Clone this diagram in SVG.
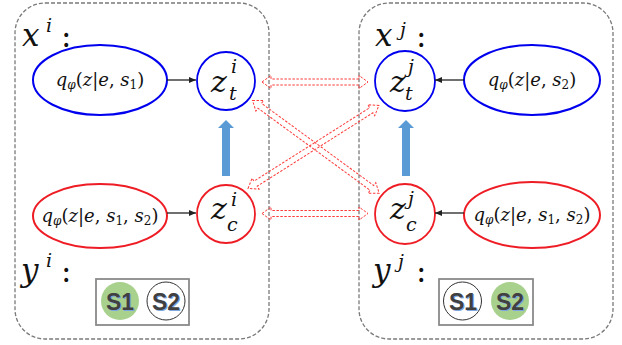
<svg xmlns="http://www.w3.org/2000/svg" width="622" height="345" viewBox="0 0 622 345">
<style>
.box{fill:none;stroke:#7a7a7a;stroke-width:1.3;stroke-dasharray:4 2}
.eb{fill:#fff;stroke:#0000ee;stroke-width:2}
.er{fill:#fff;stroke:#ee1c24;stroke-width:2}
.cb{fill:#fff;stroke:#0000ee;stroke-width:1.8}
.cr{fill:#fff;stroke:#ee1c24;stroke-width:1.8}
.m{font-family:"DejaVu Serif","Liberation Serif",serif;font-style:italic;fill:#111}
.u{font-style:normal}
.q{font-size:18px}
.z{font-size:30px}
.s{font-size:19px}
.lab{font-size:31px}
.blk{fill:none;stroke:#222;stroke-width:1.3}
.ra{fill:none;stroke:#ff3b3b;stroke-width:1;stroke-dasharray:2.5 1.5}
.ba{fill:#5b9bd5}
.leg{fill:#fff;stroke:#8a8a8a;stroke-width:1.8}
.st{font-family:"Liberation Sans",Arial,sans-serif;font-weight:bold;font-size:24px;fill:#404040}
.sh{font-family:"Liberation Sans",Arial,sans-serif;font-weight:bold;font-size:24px;fill:#7ea6e0}
</style>
<defs>
<marker id="ah" markerWidth="8" markerHeight="8" refX="7" refY="4" orient="auto" markerUnits="userSpaceOnUse">
<path d="M0,1 L7,4 L0,7 Z" fill="#222"/>
</marker>
</defs>

<g id="box-i"><rect class="box" x="15" y="3" width="254" height="336" rx="30"/></g>
<g id="box-j"><rect class="box" x="359" y="3" width="254" height="336" rx="30"/></g>

<g id="label-xi"><text class="m lab" x="22" y="46">x</text><text class="m s" x="46" y="32">i</text><text class="m lab u" x="61" y="47">:</text></g>
<g id="label-yi"><text class="m lab" x="21" y="281">y</text><text class="m s" x="46" y="267">i</text><text class="m lab u" x="61" y="282">:</text></g>
<g id="label-xj"><text class="m lab" x="375" y="46">x</text><text class="m s" x="400" y="36">j</text><text class="m lab u" x="416" y="47">:</text></g>
<g id="label-yj"><text class="m lab" x="373" y="281">y</text><text class="m s" x="398" y="268">j</text><text class="m lab u" x="416" y="282">:</text></g>

<g id="q-i-top"><ellipse class="eb" cx="100" cy="80" rx="67" ry="35"/>
<text class="m q" x="100" y="86" text-anchor="middle">q<tspan font-size="12" dy="3">φ</tspan><tspan class="u" dy="-3">(</tspan>z<tspan class="u">|</tspan>e<tspan class="u">, </tspan>s<tspan class="u" font-size="12" dy="3">1</tspan><tspan class="u" dy="-3">)</tspan></text></g>
<g id="q-j-top"><ellipse class="eb" cx="532" cy="80" rx="68" ry="35"/>
<text class="m q" x="532" y="86" text-anchor="middle">q<tspan font-size="12" dy="3">φ</tspan><tspan class="u" dy="-3">(</tspan>z<tspan class="u">|</tspan>e<tspan class="u">, </tspan>s<tspan class="u" font-size="12" dy="3">2</tspan><tspan class="u" dy="-3">)</tspan></text></g>
<g id="q-i-bot"><ellipse class="er" cx="100" cy="216" rx="67" ry="32"/>
<text class="m q" x="100" y="222" text-anchor="middle">q<tspan font-size="12" dy="3">φ</tspan><tspan class="u" dy="-3">(</tspan>z<tspan class="u">|</tspan>e<tspan class="u">, </tspan>s<tspan class="u" font-size="12" dy="3">1</tspan><tspan class="u" dy="-3">, </tspan>s<tspan class="u" font-size="12" dy="3">2</tspan><tspan class="u" dy="-3">)</tspan></text></g>
<g id="q-j-bot"><ellipse class="er" cx="532" cy="215" rx="68" ry="33"/>
<text class="m q" x="532" y="221" text-anchor="middle">q<tspan font-size="12" dy="3">φ</tspan><tspan class="u" dy="-3">(</tspan>z<tspan class="u">|</tspan>e<tspan class="u">, </tspan>s<tspan class="u" font-size="12" dy="3">1</tspan><tspan class="u" dy="-3">, </tspan>s<tspan class="u" font-size="12" dy="3">2</tspan><tspan class="u" dy="-3">)</tspan></text></g>

<g id="zt-i"><circle class="cb" cx="226" cy="81" r="29"/>
<text class="m z" x="211" y="92">z</text><text class="m s" x="231" y="73">i</text><text class="m s" x="229" y="100">t</text></g>
<g id="zc-i"><circle class="cr" cx="226" cy="214" r="29"/>
<text class="m z" x="211" y="219">z</text><text class="m s" x="231" y="206">i</text><text class="m s" x="227" y="231">c</text></g>
<g id="zt-j"><circle class="cb" cx="405" cy="81" r="30"/>
<text class="m z" x="390" y="92">z</text><text class="m s" x="408" y="73">j</text><text class="m s" x="405" y="100">t</text></g>
<g id="zc-j"><circle class="cr" cx="405" cy="214" r="30"/>
<text class="m z" x="390" y="219">z</text><text class="m s" x="408" y="205">j</text><text class="m s" x="406" y="231">c</text></g>

<g id="legend-i"><rect class="leg" x="96" y="279" width="93" height="46"/>
<circle cx="120" cy="301" r="19" fill="#a9d18e"/>
<circle cx="166" cy="301" r="19" fill="#fff" stroke="#333" stroke-width="1"/>
<text class="sh" x="107" y="311" textLength="28" lengthAdjust="spacingAndGlyphs">S1</text>
<text class="st" x="106" y="310" textLength="28" lengthAdjust="spacingAndGlyphs">S1</text>
<text class="sh" x="153" y="311" textLength="28" lengthAdjust="spacingAndGlyphs">S2</text>
<text class="st" x="152" y="310" textLength="28" lengthAdjust="spacingAndGlyphs">S2</text></g>
<g id="legend-j"><rect class="leg" x="439" y="279" width="94" height="46"/>
<circle cx="462.5" cy="301" r="19" fill="#fff" stroke="#333" stroke-width="1"/>
<circle cx="510" cy="301" r="19" fill="#a9d18e"/>
<text class="sh" x="450" y="311" textLength="28" lengthAdjust="spacingAndGlyphs">S1</text>
<text class="st" x="449" y="310" textLength="28" lengthAdjust="spacingAndGlyphs">S1</text>
<text class="sh" x="497" y="311" textLength="28" lengthAdjust="spacingAndGlyphs">S2</text>
<text class="st" x="496" y="310" textLength="28" lengthAdjust="spacingAndGlyphs">S2</text></g>

<g id="connectors">
<line class="blk" x1="167" y1="80" x2="196" y2="80" marker-end="url(#ah)"/>
<line class="blk" x1="464" y1="80" x2="435" y2="80" marker-end="url(#ah)"/>
<line class="blk" x1="167" y1="213" x2="196" y2="213" marker-end="url(#ah)"/>
<line class="blk" x1="464" y1="213" x2="435" y2="213" marker-end="url(#ah)"/>
<path class="ba" d="M222,176 L222,128 L218,128 L226,120 L234,128 L230,128 L230,176 Z"/>
<path class="ba" d="M402,176 L402,128 L398,128 L406,120 L414,128 L410,128 L410,176 Z"/>
<path class="ra" transform="translate(262,82)" d="M0,0 L9,-6.5 L9,-3 L97,-3 L97,-6.5 L106,0 L97,6.5 L97,3 L9,3 L9,6.5 Z"/>
<path class="ra" transform="translate(262,213.5)" d="M0,0 L9,-6.5 L9,-3 L97,-3 L97,-6.5 L106,0 L97,6.5 L97,3 L9,3 L9,6.5 Z"/>
<path class="ra" transform="translate(252.5,100.5) rotate(36.2)" d="M0,0 L9,-6.5 L9,-3 L148,-3 L148,-6.5 L157,0 L148,6.5 L148,3 L9,3 L9,6.5 Z"/>
<path class="ra" transform="translate(248,188.5) rotate(-32.4)" d="M0,0 L9,-6.5 L9,-3 L146,-3 L146,-6.5 L155,0 L146,6.5 L146,3 L9,3 L9,6.5 Z"/>
</g>
</svg>
